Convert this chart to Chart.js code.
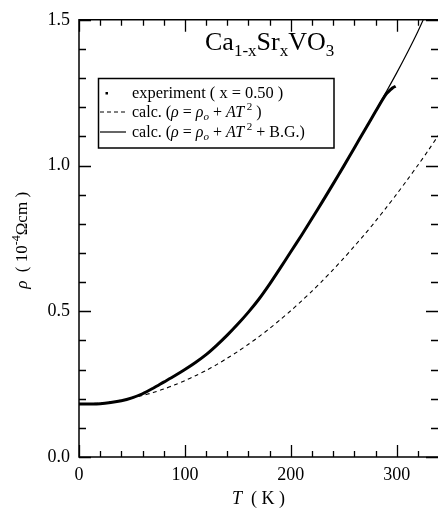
<!DOCTYPE html>
<html>
<head>
<meta charset="utf-8">
<script src="https://cdn.jsdelivr.net/npm/chart.js@4.4.0/dist/chart.umd.min.js"></script>
<style>
html, body { margin: 0; padding: 0; background: #fff; }
canvas { display: block; }
</style>
</head>
<body>
<canvas id="rhoChart" width="438" height="512"></canvas>
<script>
// Ca1-xSrxVO3 (x = 0.50): resistivity vs temperature

// measured curve (thick line)
const expT = [0, 10, 20, 30, 40, 50, 60, 70, 80, 90, 100, 110, 120, 130, 140, 150, 160, 170, 180, 190,
              200, 210, 220, 230, 240, 250, 260, 270, 280, 290, 296, 299];
const expRho = [0.182, 0.182, 0.183, 0.187, 0.193, 0.203, 0.217, 0.236, 0.257, 0.278, 0.300, 0.324, 0.351,
                0.383, 0.418, 0.456, 0.497, 0.542, 0.593, 0.648, 0.704, 0.760, 0.818, 0.877, 0.937, 0.998,
                1.060, 1.123, 1.185, 1.245, 1.266, 1.272];

// calculated curves
const calcT = [0, 10, 20, 30, 40, 50, 60, 70, 80, 90, 100, 110, 120, 130, 140, 150, 160, 170, 180, 190,
               200, 210, 220, 230, 240, 250, 260, 270, 280, 290, 300, 310, 320, 330, 340];
const calcAT2 = [0.182, 0.183, 0.185, 0.189, 0.195, 0.202, 0.211, 0.221, 0.233, 0.247, 0.262, 0.279, 0.297,
                 0.317, 0.339, 0.362, 0.387, 0.413, 0.441, 0.471, 0.502, 0.535, 0.569, 0.605, 0.643, 0.682,
                 0.723, 0.765, 0.809, 0.855, 0.902, 0.951, 1.001, 1.053, 1.107];
const calcBG = [0.182, 0.182, 0.183, 0.187, 0.193, 0.203, 0.217, 0.236, 0.257, 0.278, 0.300, 0.324, 0.351,
                0.383, 0.418, 0.456, 0.497, 0.542, 0.593, 0.648, 0.704, 0.760, 0.818, 0.877, 0.937, 0.998,
                1.060, 1.123, 1.187, 1.252, 1.318, 1.387, 1.460, 1.540];

// axes
const xTicks = [0, 100, 200, 300];
const yTicks = [0, 0.5, 1.0, 1.5];
const xMax = 339;
const yMax = 1.5;

const SERIF = '"Liberation Serif", "DejaVu Serif", serif';

function toPoints(xs, ys) {
    return ys.map((y, i) => ({ x: xs[i], y: y }));
}

// draw a row of text pieces: [text, size, italic, dy]
function drawRuns(ctx, x, y, runs, align) {
    const widths = runs.map(r => {
        ctx.font = (r[2] ? 'italic ' : '') + r[1] + 'px ' + SERIF;
        return ctx.measureText(r[0]).width;
    });
    const total = widths.reduce((a, b) => a + b, 0);
    let cx = align === 'center' ? x - total / 2 : x;
    runs.forEach((r, i) => {
        ctx.font = (r[2] ? 'italic ' : '') + r[1] + 'px ' + SERIF;
        ctx.fillText(r[0], cx, y + (r[3] || 0));
        cx += widths[i];
    });
}

// frame, inward ticks, titles and legend box
const decorations = {
    id: 'decorations',
    afterDraw(chart) {
        const ctx = chart.ctx;
        const area = chart.chartArea;
        const xs = chart.scales.x;
        const ys = chart.scales.y;
        ctx.save();
        ctx.strokeStyle = '#000';
        ctx.fillStyle = '#000';
        ctx.lineWidth = 1.5;

        // frame (right side falls off the picture)
        ctx.beginPath();
        ctx.moveTo(area.right + 2, area.top);
        ctx.lineTo(area.left, area.top);
        ctx.lineTo(area.left, area.bottom);
        ctx.lineTo(area.right + 2, area.bottom);
        ctx.stroke();

        // x ticks every 20 K
        ctx.lineWidth = 1.3;
        ctx.beginPath();
        for (let v = 0; v <= xMax; v += 20) {
            const px = Math.round(xs.getPixelForValue(v)) + 0.5;
            const len = v % 100 === 0 ? 12 : 6;
            ctx.moveTo(px, area.bottom);
            ctx.lineTo(px, area.bottom - len);
            ctx.moveTo(px, area.top);
            ctx.lineTo(px, area.top + len);
        }
        // y ticks every 0.1
        for (let i = 0; i <= 15; i++) {
            const py = Math.round(ys.getPixelForValue(i / 10)) + 0.5;
            const len = i % 5 === 0 ? 12 : 7;
            ctx.moveTo(area.left, py);
            ctx.lineTo(area.left + len, py);
            ctx.moveTo(area.right, py);
            ctx.lineTo(area.right - len, py);
        }
        ctx.stroke();

        ctx.textBaseline = 'alphabetic';
        ctx.textAlign = 'left';

        // compound name
        drawRuns(ctx, 205, 50, [
            ['Ca', 26, false, 0], ['1-x', 17, false, 6], ['Sr', 26, false, 0],
            ['x', 17, false, 6], ['VO', 26, false, 0], ['3', 17, false, 6]
        ]);

        // legend
        ctx.lineWidth = 1.5;
        ctx.strokeRect(98.5, 78.5, 235.5, 69.5);
        ctx.fillRect(105.5, 92, 2.5, 2.5);
        ctx.lineWidth = 1;
        ctx.setLineDash([4, 3]);
        ctx.beginPath();
        ctx.moveTo(100, 112);
        ctx.lineTo(126, 112);
        ctx.stroke();
        ctx.setLineDash([]);
        ctx.lineWidth = 1.2;
        ctx.beginPath();
        ctx.moveTo(100, 132);
        ctx.lineTo(126, 132);
        ctx.stroke();

        drawRuns(ctx, 132, 97.5, [['experiment ( x = 0.50 )', 16.4, false, 0]]);
        drawRuns(ctx, 132, 117, [
            ['calc. (', 16, false, 0], ['\u03C1', 16, true, 0], [' = ', 16, false, 0],
            ['\u03C1', 16, true, 0], ['o', 11, true, 3], [' + ', 16, false, 0],
            ['AT', 16, true, 0], [' 2', 11, false, -7], [' )', 16, false, 0]
        ]);
        drawRuns(ctx, 132, 137, [
            ['calc. (', 16, false, 0], ['\u03C1', 16, true, 0], [' = ', 16, false, 0],
            ['\u03C1', 16, true, 0], ['o', 11, true, 3], [' + ', 16, false, 0],
            ['AT', 16, true, 0], [' 2', 11, false, -7], [' + B.G.)', 16, false, 0]
        ]);

        // x axis title
        drawRuns(ctx, (area.left + area.right) / 2, 504, [
            ['T', 18, true, 0], ['  ( K )', 18, false, 0]
        ], 'center');

        // y axis title
        ctx.translate(27, (area.top + area.bottom) / 2 + 2);
        ctx.rotate(-Math.PI / 2);
        drawRuns(ctx, 0, 0, [
            ['\u03C1', 17, true, 0], ['  ( 10', 17, false, 0], ['-4', 12, false, -7],
            ['\u03A9cm )', 17, false, 0]
        ], 'center');

        ctx.restore();
    }
};

const ctx = document.getElementById('rhoChart').getContext('2d');
const rhoChart = new Chart(ctx, {
    type: 'line',
    data: {
        datasets: [
            {
                label: 'experiment ( x = 0.50 )',
                data: toPoints(expT, expRho),
                borderColor: '#000',
                borderWidth: 3,
                pointRadius: 0,
                tension: 0.3,
                order: 0
            },
            {
                label: 'calc. (rho = rho_o + AT^2 )',
                data: toPoints(calcT, calcAT2),
                borderColor: '#000',
                borderWidth: 1.1,
                borderDash: [4, 3.5],
                pointRadius: 0,
                tension: 0.3,
                order: 2
            },
            {
                label: 'calc. (rho = rho_o + AT^2 + B.G.)',
                data: toPoints(calcT, calcBG),
                borderColor: '#000',
                borderWidth: 1.2,
                pointRadius: 0,
                tension: 0.3,
                order: 1
            }
        ]
    },
    options: {
        responsive: false,
        animation: false,
        devicePixelRatio: 1,
        layout: { padding: { top: 11, right: 0, left: 0, bottom: 0 } },
        plugins: {
            legend: { display: false },
            tooltip: { enabled: false }
        },
        scales: {
            x: {
                type: 'linear',
                min: 0,
                max: xMax,
                afterBuildTicks: scale => { scale.ticks = xTicks.map(v => ({ value: v })); },
                afterFit: scale => { scale.height = 55; },
                grid: { display: false, drawTicks: false },
                border: { display: false },
                ticks: {
                    padding: 7,
                    color: '#000',
                    maxRotation: 0,
                    font: { family: SERIF, size: 18 },
                    callback: v => String(v)
                }
            },
            y: {
                type: 'linear',
                min: 0,
                max: yMax,
                afterBuildTicks: scale => { scale.ticks = yTicks.map(v => ({ value: v })); },
                afterFit: scale => { scale.width = 79; },
                grid: { display: false, drawTicks: false },
                border: { display: false },
                ticks: {
                    padding: 9,
                    color: '#000',
                    font: { family: SERIF, size: 18 },
                    callback: v => v.toFixed(1)
                }
            }
        }
    },
    plugins: [decorations]
});
</script>
</body>
</html>
